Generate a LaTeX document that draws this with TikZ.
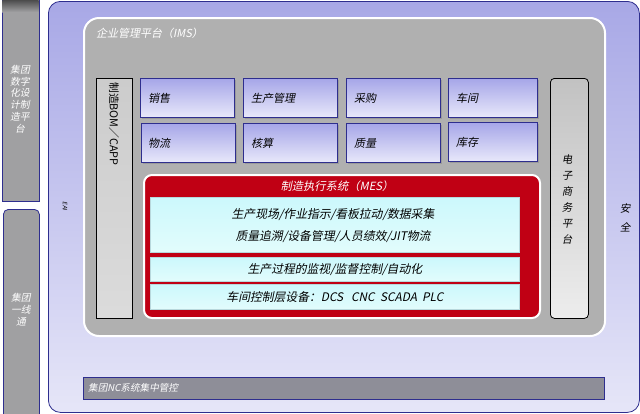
\documentclass[tikz,border=0pt]{standalone}
\usepackage{fontspec}
\newfontfamily\cjk[FakeSlant=0.2]{Noto Sans CJK SC}
\usetikzlibrary{shadows}
\definecolor{navy}{HTML}{2E2E8E}
\definecolor{sidegray}{HTML}{A0A0A2}
\definecolor{paneltop}{HTML}{A8A8E6}
\definecolor{panelbot}{HTML}{E6E6F8}
\definecolor{imsgray}{HTML}{B0B0B0}
\definecolor{modtop}{HTML}{A6A6E8}
\definecolor{modbot}{HTML}{E8E8FA}
\definecolor{mesred}{HTML}{C00014}
\definecolor{cyantop}{HTML}{CCF8FC}
\definecolor{cyanbot}{HTML}{E2FCFC}
\definecolor{cyanline}{HTML}{B8D8DC}
\definecolor{barfill}{HTML}{8E8E98}
\begin{document}
\begin{tikzpicture}[x=1pt,y=-1pt,
  every node/.style={font=\cjk\fontsize{11}{13}\selectfont, inner sep=0pt},
  sidepanel/.style={fill=sidegray, draw=navy, line width=0.8pt},
  whitetxt/.style={text=white, font=\cjk\fontsize{9.8}{11.8}\selectfont, align=center},
  modbox/.style={draw=navy, line width=0.8pt, top color=modtop, bottom color=modbot,
    drop shadow={shadow xshift=1.3pt, shadow yshift=-1.3pt, opacity=0.45},
    anchor=north west, minimum height=39pt},
  modtxt/.style={anchor=west, text=black},
  cyanbox/.style={draw=cyanline, line width=0.8pt, top color=cyantop, bottom color=cyanbot,
    anchor=north west, minimum width=369pt},
  blacktxt/.style={text=black, font=\cjk\fontsize{11.8}{13}\selectfont}
]
\useasboundingbox (0,0) rectangle (640,413);
\fill[white] (0,0) rectangle (640,413);

% left side panels
\node[sidepanel, anchor=north west, minimum width=37pt, minimum height=206pt] (p1) at (2,-5) {};
\shade[top color=black!70, bottom color=sidegray] (2.4,0) rectangle (38.6,12);
\node[whitetxt] (p1t) at (20,99) {集团\\数字\\化设\\计制\\造平\\台};
\node[sidepanel, rounded corners=5pt, anchor=north west, minimum width=36pt, minimum height=210pt] (p2) at (3,209) {};
\node[whitetxt] (p2t) at (21,310) {集团\\一线\\通};

% big blue panel
\node[draw=navy, line width=0.8pt, rounded corners=12pt, top color=paneltop, bottom color=panelbot,
  anchor=north west, minimum width=591pt, minimum height=411pt] (blue) at (48,1) {};
\node[rotate=-90, font=\cjk\fontsize{6}{7}\selectfont, text=black] (eai) at (65,206) {EAI};
\node[align=center, text=black, font=\cjk\fontsize{10.5}{19}\selectfont] (aq) at (625,218) {安\\全};

% IMS panel
\node[draw=white, line width=2pt, fill=imsgray, rounded corners=15pt, anchor=north west,
  minimum width=521pt, minimum height=318pt] (ims) at (83,17) {};
\node[anchor=west, text=white] (imst) at (96,33) {企业管理平台（IMS）};

% left vertical BOM box
\node[draw=black, line width=0.8pt, top color=black!20, bottom color=black!14, anchor=north west,
  minimum width=36pt, minimum height=240pt] (bom) at (96,78) {};
\node[rotate=-90, anchor=west, text=black, font=\fontspec{Noto Sans CJK SC}\fontsize{10.8}{13}\selectfont] (bomt) at (114,82) {制造BOM／CAPP};

% right vertical e-commerce box
\node[draw=black, line width=0.8pt, rounded corners=4pt, top color=black!24, bottom color=black!7,
  anchor=north west, minimum width=38pt, minimum height=240pt] (ec) at (550,78) {};
\node[align=center, text=black, font=\cjk\fontsize{10.5}{16}\selectfont] (ect) at (567,200) {电\\子\\商\\务\\平\\台};

% module grid
\node[modbox, minimum width=94pt] (m1) at (140,78) {};
\node[modtxt] at ([xshift=8pt]m1.west) {销售};
\node[modbox, minimum width=94pt] (m2) at (243,78) {};
\node[modtxt] at ([xshift=8pt]m2.west) {生产管理};
\node[modbox, minimum width=94pt] (m3) at (346,78) {};
\node[modtxt] at ([xshift=8pt]m3.west) {采购};
\node[modbox, minimum width=89pt] (m4) at (448,78) {};
\node[modtxt] at ([xshift=8pt]m4.west) {车间};
\node[modbox, minimum width=94pt] (m5) at (141,123) {};
\node[modtxt] at ([xshift=7pt]m5.west) {物流};
\node[modbox, minimum width=94pt] (m6) at (243,123) {};
\node[modtxt] at ([xshift=8pt]m6.west) {核算};
\node[modbox, minimum width=94pt] (m7) at (346,123) {};
\node[modtxt] at ([xshift=8pt]m7.west) {质量};
\node[modbox, minimum width=89pt] (m8) at (448,122) {};
\node[modtxt] at ([xshift=8pt]m8.west) {库存};

% MES block
\node[draw=white, line width=2pt, fill=mesred, rounded corners=8pt, anchor=north west,
  minimum width=396pt, minimum height=143pt] (mes) at (143,174) {};
\node[text=white, font=\cjk\fontsize{11.3}{13}\selectfont] (mest) at (337,186) {制造执行系统（MES）};
\node[cyanbox, minimum height=55pt] (c1) at (150,197) {};
\node[blacktxt] at (333,215) {生产现场/作业指示/看板拉动/数据采集};
\node[blacktxt] at (333,237) {质量追溯/设备管理/人员绩效/JIT物流};
\node[cyanbox, minimum height=24pt] (c2) at (150,257) {};
\node[blacktxt] at (c2.center) {生产过程的监视/监督控制/自动化};
\node[cyanbox, minimum height=25pt] (c3) at (150,284) {};
\node[blacktxt] at (c3.center) {车间控制层设备：DCS\ \ \ CNC\ \ SCADA\ \ PLC};

% bottom bar
\node[draw=navy, line width=0.8pt, fill=barfill, anchor=north west, minimum width=521pt, minimum height=22pt,
  drop shadow={shadow xshift=0.8pt, shadow yshift=-0.8pt, opacity=0.3}] (nc) at (83,377) {};
\node[anchor=west, text=white, font=\cjk\fontsize{9.6}{11}\selectfont] (nct) at (88,388) {集团NC系统集中管控};
\end{tikzpicture}
\end{document}
